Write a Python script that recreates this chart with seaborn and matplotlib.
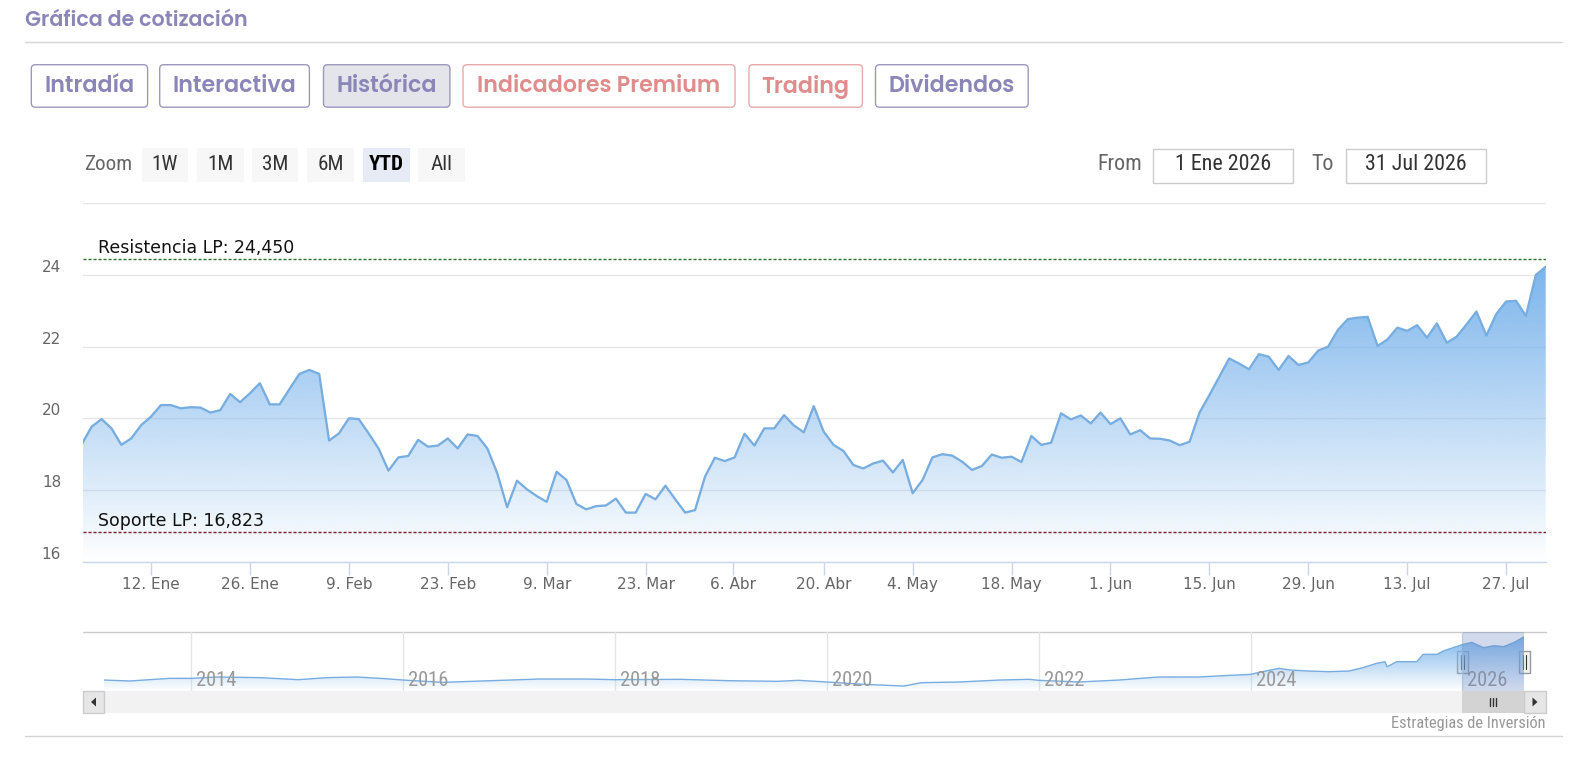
import numpy as np
import pandas as pd
import matplotlib
matplotlib.use("Agg")
import matplotlib.pyplot as plt
import matplotlib.transforms as mtransforms
from matplotlib import font_manager
from matplotlib.colors import to_rgb
from matplotlib.patches import FancyBboxPatch, Rectangle, Polygon
import seaborn as sns

# ─── Data ────────────────────────────────────────────────
# cierre diario (31 Dic 2025 -> 31 Jul 2026, solo sesiones)
precios = [
    19.28,
    19.77, 19.98, 19.72, 19.26, 19.44, 19.81, 20.05, 20.37, 20.37, 20.28,
    20.31, 20.30, 20.16, 20.23, 20.68, 20.45, 20.70, 20.98, 20.39, 20.39,
    20.82, 21.24, 21.35, 21.24, 19.38, 19.58, 20.00, 19.98, 19.58, 19.16,
    18.54, 18.91, 18.95, 19.40, 19.21, 19.24, 19.44, 19.16, 19.55, 19.51,
    19.16, 18.47, 17.52, 18.26, 18.02, 17.83, 17.67, 18.51, 18.28, 17.61,
    17.46, 17.55, 17.57, 17.76, 17.37, 17.37, 17.89, 17.74, 18.12, 17.74,
    17.37, 17.44, 18.37, 18.90, 18.81, 18.91, 19.57, 19.24, 19.72, 19.72,
    20.09, 19.80, 19.61, 20.34, 19.63, 19.26, 19.09, 18.70, 18.60, 18.74,
    18.82, 18.49, 18.84, 17.91, 18.28, 18.91, 19.00, 18.96, 18.79, 18.56,
    18.67, 18.99, 18.90, 18.93, 18.78, 19.51, 19.26, 19.32, 20.14, 19.97,
    20.08,
    19.86, 20.16, 19.84, 20.00, 19.55, 19.67, 19.44, 19.43, 19.38, 19.25,
    19.35, 20.16, 20.65, 21.16, 21.67, 21.53, 21.37, 21.79, 21.72, 21.35,
    21.74, 21.49, 21.56, 21.89, 22.00, 22.47, 22.77, 22.81, 22.83, 22.02,
    22.20, 22.53, 22.44, 22.60, 22.25, 22.65, 22.11, 22.28, 22.62, 22.98,
    22.31, 22.91, 23.26, 23.28, 22.86, 24.00, 24.23,
]
festivos = ["2026-01-01", "2026-04-03", "2026-04-06", "2026-05-01"]

tick_fechas = ["2026-01-12", "2026-01-26", "2026-02-09", "2026-02-23",
               "2026-03-09", "2026-03-23", "2026-04-06", "2026-04-20",
               "2026-05-04", "2026-05-18", "2026-06-01", "2026-06-15",
               "2026-06-29", "2026-07-13", "2026-07-27"]
tick_textos = ["12. Ene", "26. Ene", "9. Feb", "23. Feb", "9. Mar", "23. Mar",
               "6. Abr", "20. Abr", "4. May", "18. May", "1. Jun", "15. Jun",
               "29. Jun", "13. Jul", "27. Jul"]
y_ticks = [16, 18, 20, 22, 24, 26]
y_textos = ["16", "18", "20", "22", "24", ""]

resistencia = 24.450
soporte = 16.823

# navegador: histórico largo (nivel relativo dentro del panel)
nav_anios = [2013.17, 2013.42, 2013.79, 2014.00, 2014.24, 2014.65, 2015.01,
             2015.28, 2015.56, 2015.83, 2016.00, 2016.37, 2016.83, 2017.28,
             2017.73, 2018.00, 2018.62, 2019.07, 2019.53, 2019.73, 2020.00,
             2020.35, 2020.73, 2020.89, 2021.25, 2021.63, 2021.91, 2022.00,
             2022.38, 2022.76, 2023.13, 2023.51, 2023.80, 2024.00, 2024.11,
             2024.27, 2024.37, 2024.55, 2024.74, 2024.93, 2025.06, 2025.19,
             2025.27, 2025.29, 2025.38, 2025.57, 2025.63, 2025.76, 2025.82,
             2025.91, 2026.01, 2026.09, 2026.20, 2026.30, 2026.39, 2026.49,
             2026.585]
nav_nivel = [0.185, 0.169, 0.213, 0.213, 0.236, 0.225, 0.191, 0.225, 0.236,
             0.208, 0.185, 0.146, 0.174, 0.202, 0.202, 0.191, 0.197, 0.174,
             0.163, 0.180, 0.152, 0.112, 0.084, 0.140, 0.152, 0.185, 0.197,
             0.180, 0.152, 0.185, 0.236, 0.236, 0.264, 0.280, 0.326, 0.382,
             0.354, 0.337, 0.326, 0.337, 0.393, 0.466, 0.494, 0.410, 0.494,
             0.494, 0.618, 0.618, 0.674, 0.730, 0.787, 0.820, 0.730, 0.764,
             0.747, 0.820, 0.916]
nav_etiquetas = [2014, 2016, 2018, 2020, 2022, 2024, 2026]
nav_desde = 2026.0

botones = ["Intradía", "Interactiva", "Histórica", "Indicadores Premium",
           "Trading", "Dividendos"]
botones_tipo = ["p", "p", "sel", "s", "s", "p"]
zoom_botones = ["1W", "1M", "3M", "6M", "YTD", "All"]

# ─── Style ───────────────────────────────────────────────
W, H = 1585, 758
LINE = "#78ade0"
FILL = "#7cb5ec"
PURPLE = "#8a86b8"
SALMON = "#e08c8c"
GRID = "#e6e6e6"
AXIS = "#ccd6eb"
LABEL = "#666666"

sns.set_theme(style="white")
names = {f.name for f in font_manager.fontManager.ttflist}


def pick(*fams):
    for f in fams:
        if f in names:
            return f
    return "DejaVu Sans"


HEAD = pick("Poppins", "Lato", "Open Sans")
NARROW = pick("Roboto Condensed", "Open Sans Condensed", "Liberation Sans Narrow",
              "DejaVu Sans Condensed", "Noto Sans Condensed", "Open Sans")
plt.rcParams["font.family"] = ["DejaVu Sans"]

fig = plt.figure(figsize=(W / 100, H / 100), dpi=100)
fig.patch.set_facecolor("white")


def px(x0, y0, x1, y1):
    return [x0 / W, 1 - y1 / H, (x1 - x0) / W, (y1 - y0) / H]


bg = fig.add_axes([0, 0, 1, 1], zorder=0)
bg.set_xlim(0, W)
bg.set_ylim(H, 0)
bg.axis("off")
renderer = fig.canvas.get_renderer()


def fit_size(s, width, **kw):
    t = bg.text(0, 0, s, fontsize=10, **kw)
    w = t.get_window_extent(renderer=renderer).width
    t.remove()
    return 10 * width / w


def gradient_fill(ax, x, y, base, color):
    coll = ax.fill_between(x, y, base, facecolor="none", edgecolor="none")
    path = coll.get_paths()[0]
    rgba = np.zeros((256, 1, 4))
    rgba[..., :3] = to_rgb(color)
    rgba[..., 3] = np.linspace(0, 1, 256)[:, None]
    im = ax.imshow(rgba, extent=[min(x), max(x), base, max(y)],
                   origin="lower", aspect="auto", zorder=1)
    im.set_clip_path(path, ax.transData)


# ─── Header ──────────────────────────────────────────────
HW = 600
fs = fit_size("Gráfica de cotización", 224, family=HEAD, weight=HW)
bg.text(25.3, 20.5, "Gráfica de cotización", fontsize=fs, family=HEAD,
        weight=HW, color=PURPLE, va="center", ha="left")
bg.plot([25, 1562], [41.5, 41.5], color="#d6d6d6", lw=1)

btn_x = [(31.3, 147.6), (159.7, 309.4), (323.5, 449.9), (463.0, 735.0),
         (749.0, 862.4), (875.5, 1028.2)]
fs = fit_size("Indicadores Premium", 245, family=HEAD, weight=HW)
for (x0, x1), txt, kind in zip(btn_x, botones, botones_tipo):
    tc = SALMON if kind == "s" else PURPLE
    ec = "#e8a9a9" if kind == "s" else "#9c99bd"
    fc = "#e4e4eb" if kind == "sel" else "white"
    bg.add_patch(FancyBboxPatch((x0, 64.7), x1 - x0, 42.5,
                                boxstyle="round,pad=0,rounding_size=4",
                                fc=fc, ec=ec, lw=1))
    bg.text((x0 + x1) / 2, 87, txt, fontsize=fs, family=HEAD, weight=HW,
            color=tc, ha="center", va="center")

# zoom row
zx = [(141.5, 188), (197, 243.6), (251.7, 298.2), (307.3, 353.9),
      (363, 409.5), (417.5, 465)]
fs = fit_size("Zoom", 48, family=NARROW)
bg.text(84, 165, "Zoom", fontsize=fs, family=NARROW, color=LABEL,
        ha="left", va="center")
for (x0, x1), txt in zip(zx, zoom_botones):
    sel = txt == "YTD"
    bg.add_patch(Rectangle((x0, 148), x1 - x0, 34,
                           fc="#e6ebf5" if sel else "#f7f7f7", ec="none"))
    bg.text((x0 + x1) / 2, 165, txt, fontsize=fs, family=NARROW,
            color="#000000" if sel else "#333333",
            weight="bold" if sel else "normal", ha="center", va="center")

fs2 = fit_size("31 Jul 2026", 101, family=NARROW)
bg.text(1097, 165, "From", fontsize=fs2, family=NARROW, color=LABEL,
        ha="left", va="center")
bg.text(1311, 165, "To", fontsize=fs2, family=NARROW, color=LABEL,
        ha="left", va="center")
for (x0, x1), txt in zip([(1152.5, 1293), (1345.6, 1486)],
                         ["1 Ene 2026", "31 Jul 2026"]):
    bg.add_patch(Rectangle((x0, 148.6), x1 - x0, 34, fc="white",
                           ec="#cccccc", lw=1))
    bg.text((x0 + x1) / 2, 165, txt, fontsize=fs2, family=NARROW,
            color="#333333", ha="center", va="center")

# ─── Main chart ──────────────────────────────────────────
fechas = pd.bdate_range("2025-12-31", "2026-07-31")
fechas = fechas[~fechas.isin(pd.to_datetime(festivos))]
df = pd.DataFrame({"idx": np.arange(len(precios)), "precio": precios,
                   "fecha": fechas[:len(precios)]})
tick_pos = np.interp(pd.to_datetime(tick_fechas).asi8,
                     df["fecha"].values.astype("int64"), df["idx"])

ax = fig.add_axes(px(83.3, 203.3, 1545.7, 561.7), zorder=1)
ax.set_facecolor("white")
gradient_fill(ax, df["idx"].values, df["precio"].values, 16, FILL)
sns.lineplot(data=df, x="idx", y="precio", ax=ax, color=LINE,
             linewidth=1.65, zorder=4)

ax.axhline(resistencia, color="#2f6f2f", lw=1, ls=(0, (2.2, 1.4)), zorder=3)
ax.axhline(soporte, color="#7d1f2a", lw=1, ls=(0, (2.2, 1.4)), zorder=3)
blend = mtransforms.blended_transform_factory(ax.transAxes, ax.transData)
shift = mtransforms.ScaledTranslation(0, 1.5 / 72, fig.dpi_scale_trans)
fs3 = fit_size("Resistencia LP: 24,450", 196)
for val, txt in [(resistencia, "Resistencia LP: 24,450"),
                 (soporte, "Soporte LP: 16,823")]:
    ax.text(0.01, val, txt, transform=blend + shift, fontsize=fs3,
            color="#111111", ha="left", va="bottom", zorder=5)

ax.set_xlim(0.15, len(precios) - 1)
ax.set_ylim(16, 26)
ax.set_yticks(y_ticks)
ax.set_yticklabels(y_textos)
for lab in ax.get_yticklabels():
    lab.set_verticalalignment("bottom")
ax.set_xticks(tick_pos)
ax.set_xticklabels(tick_textos)
ax.yaxis.grid(True, color=GRID, lw=1)
ax.xaxis.grid(False)
ax.set_axisbelow(True)
ax.tick_params(axis="y", length=0, pad=16, labelsize=11, labelcolor=LABEL)
ax.tick_params(axis="x", length=9.5, width=1, color=AXIS, pad=1.5,
               labelsize=11, labelcolor=LABEL, bottom=True)
for side in ["top", "left", "right"]:
    ax.spines[side].set_visible(False)
ax.spines["bottom"].set_color(AXIS)
ax.spines["bottom"].set_linewidth(1)
ax.set_xlabel("")
ax.set_ylabel("")

# ─── Navigator ───────────────────────────────────────────
bg.plot([83, 1545.7], [631.7, 631.7], color="#cccccc", lw=1)
nav = fig.add_axes(px(103.5, 631.7, 1524.3, 691), zorder=1)
nav.set_facecolor("none")
for yr in nav_etiquetas:
    nav.axvline(yr, color=GRID, lw=1, zorder=0)
gradient_fill(nav, np.array(nav_anios), np.array(nav_nivel), 0, FILL)
sns.lineplot(x=nav_anios, y=nav_nivel, ax=nav, color=LINE, linewidth=1,
             zorder=4)
fs4 = fit_size("2024", 40, family=NARROW)
for yr in nav_etiquetas:
    nav.annotate(str(yr), xy=(yr, 0.17), xycoords=("data", "axes fraction"),
                 xytext=(3.6, 0), textcoords="offset points", ha="left",
                 va="center", fontsize=fs4, family=NARROW, color="#999999",
                 zorder=5)
nav.axvspan(nav_desde, nav_anios[-1], color=(102 / 255, 133 / 255, 194 / 255),
            alpha=0.3, lw=0, zorder=6)
nav.set_xlim(2013.17, nav_anios[-1])
nav.set_ylim(0, 1)
nav.axis("off")

# handles
for hx in [1462.3, 1524.3]:
    bg.add_patch(Rectangle((hx - 5.5, 650.5), 11, 22.5, fc="#f2f2f2",
                           ec="#999999", lw=1, zorder=8))
    for dx in [-1.5, 1.5]:
        bg.plot([hx + dx, hx + dx], [655, 668.5], color="#333333", lw=0.8,
                zorder=9)

# scrollbar
bg.add_patch(Rectangle((83, 691), 1545.7 - 83, 22.3, fc="#f2f2f2", ec="none"))
bg.add_patch(Rectangle((1462.3, 691), 62, 22.3, fc="#d3d3d3", ec="none"))
for dx in [-3, 0, 3]:
    bg.plot([1493.3 + dx, 1493.3 + dx], [698, 706], color="#333333", lw=1)
for x0, pts in [(83, [(96, 697.5), (96, 706.5), (91, 702)]),
                (1524.3, [(1532.5, 697.5), (1532.5, 706.5), (1537.5, 702)])]:
    bg.add_patch(Rectangle((x0, 691), 21.4, 22.3, fc="#e6e6e6",
                           ec="#cccccc", lw=1))
    bg.add_patch(Polygon(pts, closed=True, fc="#333333", ec="none"))

fs5 = fit_size("Estrategias de Inversión", 154, family=NARROW)
bg.text(1545.7, 723.5, "Estrategias de Inversión", fontsize=fs5,
        family=NARROW, color="#999999", ha="right", va="center")
bg.plot([25, 1562], [735.7, 735.7], color="#d6d6d6", lw=1)

fig.savefig("out.png", dpi=100)
plt.close(fig)
